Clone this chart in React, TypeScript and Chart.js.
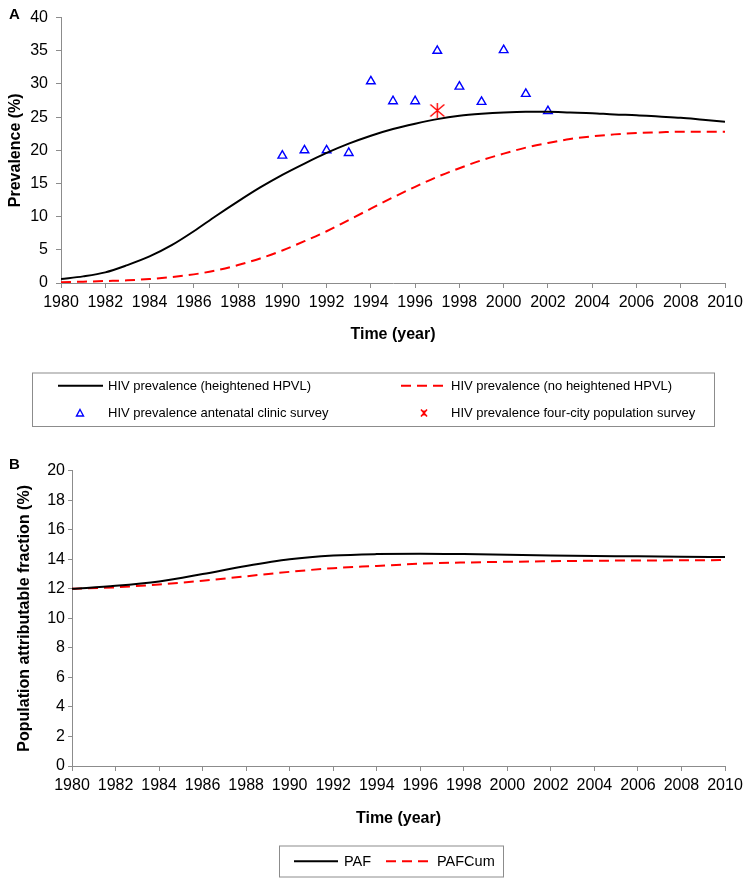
import React, { useEffect, useRef } from "react";
import { Chart, registerables } from "chart.js";
Chart.register(...registerables);

const FONT = '"Liberation Sans", Arial, Helvetica, sans-serif';

// ---------- Panel A data ----------
const modelYears = [
  1980, 1981, 1982, 1983, 1984, 1985, 1986, 1987, 1988, 1989, 1990, 1991, 1992, 1993, 1994, 1995,
  1996, 1997, 1998, 1999, 2000, 2001, 2002, 2003, 2004, 2005, 2006, 2007, 2008, 2009, 2010,
];
const hivHeightened = [
  0.6, 1.0, 1.6, 2.7, 4.0, 5.7, 7.8, 10.1, 12.3, 14.4, 16.3, 18.0, 19.6, 21.0, 22.2, 23.2,
  24.0, 24.7, 25.2, 25.5, 25.7, 25.8, 25.8, 25.7, 25.6, 25.4, 25.3, 25.1, 24.9, 24.6, 24.3,
];
const hivNoHeightened = [
  0.1, 0.2, 0.3, 0.4, 0.6, 0.9, 1.3, 1.9, 2.7, 3.7, 4.9, 6.3, 7.8, 9.5, 11.2, 12.9,
  14.5, 16.0, 17.3, 18.5, 19.5, 20.4, 21.1, 21.7, 22.1, 22.4, 22.6, 22.7, 22.8, 22.8, 22.8,
];
const ancYears = [1990, 1991, 1992, 1993, 1994, 1995, 1996, 1997, 1998, 1999, 2000, 2001, 2002];
const ancValues = [19.2, 20.0, 20.0, 19.6, 30.4, 27.4, 27.4, 35.0, 29.6, 27.3, 35.1, 28.5, 25.9];
const surveyYears = [1997];
const surveyValues = [26.0];

// ---------- Panel B data ----------
const pafYears = [1980, 1982, 1984, 1986, 1988, 1990, 1992, 1994, 1996, 1998, 2000, 2002, 2004, 2006, 2008, 2010];
const pafValues = [12.0, 12.2, 12.5, 13.0, 13.55, 14.0, 14.25, 14.35, 14.38, 14.35, 14.3, 14.25, 14.22, 14.2, 14.17, 14.15];
const pafCumValues = [12.0, 12.1, 12.3, 12.55, 12.85, 13.15, 13.4, 13.55, 13.7, 13.78, 13.83, 13.87, 13.9, 13.92, 13.93, 13.95];

const xLabel = "Time (year)";
const yLabelA = "Prevalence (%)";
const yLabelB = "Population attributable fraction (%)";

const pts = (xs: number[], ys: number[]) => xs.map((x, i) => ({ x, y: ys[i] }));

function makeStar(): HTMLCanvasElement {
  const c = document.createElement("canvas");
  c.width = 17;
  c.height = 17;
  const g = c.getContext("2d")!;
  g.strokeStyle = "#ff0000";
  g.lineWidth = 1.4;
  g.beginPath();
  g.moveTo(8.5, 1);
  g.lineTo(8.5, 16);
  g.moveTo(1.5, 2.5);
  g.lineTo(15.5, 14.5);
  g.moveTo(15.5, 2.5);
  g.lineTo(1.5, 14.5);
  g.stroke();
  return c;
}

const panelPlugin = {
  id: "panelLegend",
  afterDraw(chart: any, _args: any, opts: any) {
    const ctx = chart.ctx as CanvasRenderingContext2D;
    ctx.save();
    ctx.fillStyle = "#000";
    ctx.font = `bold 15px ${FONT}`;
    ctx.textBaseline = "alphabetic";
    ctx.textAlign = "left";
    ctx.fillText(opts.panel, opts.panelX, opts.panelY);

    const b = opts.box;
    ctx.strokeStyle = "#8c8c8c";
    ctx.lineWidth = 1;
    ctx.strokeRect(b.x + 0.5, b.y + 0.5, b.w, b.h);

    ctx.font = `${opts.fontSize}px ${FONT}`;
    ctx.textBaseline = "middle";
    for (const it of opts.items) {
      const ds = chart.data.datasets[it.index];
      ctx.save();
      if (it.kind === "line") {
        ctx.strokeStyle = ds.borderColor;
        ctx.lineWidth = 2;
        ctx.setLineDash(ds.borderDash || []);
        ctx.beginPath();
        ctx.moveTo(it.x0, it.y);
        ctx.lineTo(it.x1, it.y);
        ctx.stroke();
      } else if (it.kind === "triangle") {
        ctx.strokeStyle = ds.borderColor;
        ctx.lineWidth = 1.4;
        ctx.beginPath();
        ctx.moveTo(it.x0, it.y - 3.5);
        ctx.lineTo(it.x0 + 3.5, it.y + 3);
        ctx.lineTo(it.x0 - 3.5, it.y + 3);
        ctx.closePath();
        ctx.stroke();
      } else if (it.kind === "star") {
        ctx.strokeStyle = "#ff0000";
        ctx.lineWidth = 1.6;
        ctx.beginPath();
        ctx.moveTo(it.x0 - 3, it.y - 3.5);
        ctx.lineTo(it.x0 + 3, it.y + 3.5);
        ctx.moveTo(it.x0 + 3, it.y - 3.5);
        ctx.lineTo(it.x0 - 3, it.y + 3.5);
        ctx.moveTo(it.x0, it.y - 2.5);
        ctx.lineTo(it.x0, it.y + 2.5);
        ctx.stroke();
      }
      ctx.restore();
      ctx.fillStyle = "#000";
      ctx.fillText(ds.label, it.tx, it.y + 0.5);
    }
    ctx.restore();
  },
};

function axisCommon(opts: {
  min: number;
  max: number;
  step: number;
  tickLen: number;
  pad: number;
}) {
  return {
    type: "linear" as const,
    min: opts.min,
    max: opts.max,
    ticks: {
      stepSize: opts.step,
      autoSkip: false,
      maxRotation: 0,
      padding: opts.pad,
      color: "#000",
      font: { family: FONT, size: 16 },
      callback: (v: any) => String(v),
    },
    grid: { drawOnChartArea: false, drawTicks: true, tickLength: opts.tickLen, color: "#8c8c8c", lineWidth: 1 },
    border: { display: true, color: "#8c8c8c", width: 1 },
  };
}

export default function App() {
  const refA = useRef<HTMLCanvasElement>(null);
  const refB = useRef<HTMLCanvasElement>(null);

  useEffect(() => {
    Chart.defaults.font.family = FONT;
    const star = makeStar();

    const chartA = new Chart(refA.current!, {
      type: "line",
      data: {
        datasets: [
          {
            label: "HIV prevalence (heightened HPVL)",
            data: pts(modelYears, hivHeightened),
            borderColor: "#000000",
            borderWidth: 2,
            pointRadius: 0,
            cubicInterpolationMode: "monotone",
            fill: false,
          },
          {
            label: "HIV prevalence (no heightened HPVL)",
            data: pts(modelYears, hivNoHeightened),
            borderColor: "#ff0000",
            borderWidth: 2,
            borderDash: [10, 6],
            pointRadius: 0,
            cubicInterpolationMode: "monotone",
            fill: false,
          },
          {
            label: "HIV prevalence antenatal clinic survey",
            data: pts(ancYears, ancValues),
            showLine: false,
            pointStyle: "triangle",
            pointRadius: 5,
            borderColor: "#0000ff",
            backgroundColor: "rgba(0,0,0,0)",
            pointBorderWidth: 1.4,
          },
          {
            label: "HIV prevalence four-city population survey",
            data: pts(surveyYears, surveyValues),
            showLine: false,
            pointStyle: star as any,
            pointRadius: 8,
            borderColor: "#ff0000",
            backgroundColor: "rgba(0,0,0,0)",
          },
        ] as any,
      },
      options: {
        responsive: false,
        animation: false,
        events: [],
        layout: { padding: { top: 14, right: 24, left: 0, bottom: 95.4 } },
        plugins: {
          legend: { display: false },
          tooltip: { enabled: false },
          panelLegend: {
            panel: "A",
            panelX: 9,
            panelY: 18.5,
            box: { x: 32, y: 372.5, w: 682, h: 53.5 },
            fontSize: 13,
            items: [
              { index: 0, kind: "line", x0: 58, x1: 103, tx: 108, y: 385.7 },
              { index: 1, kind: "line", x0: 401, x1: 446, tx: 451, y: 385.7 },
              { index: 2, kind: "triangle", x0: 80, tx: 108, y: 413 },
              { index: 3, kind: "star", x0: 424, tx: 451, y: 413 },
            ],
          },
        } as any,
        scales: {
          x: {
            ...axisCommon({ min: 1980, max: 2010, step: 2, tickLen: 5, pad: 5 }),
            title: { display: true, text: xLabel, color: "#000", font: { family: FONT, size: 16, weight: "bold" }, padding: 0 },
            afterFit: (s: any) => {
              s.height = 61.6;
            },
          },
          y: {
            ...axisCommon({ min: 0, max: 40, step: 5, tickLen: 5, pad: 8 }),
            title: {
              display: true,
              text: yLabelA,
              color: "#000",
              font: { family: FONT, size: 16, weight: "bold" },
              padding: { top: 6.4, bottom: 0 },
            },
            afterFit: (s: any) => {
              s.width = 61;
            },
          },
        } as any,
      },
      plugins: [panelPlugin as any],
    });

    const chartB = new Chart(refB.current!, {
      type: "line",
      data: {
        datasets: [
          {
            label: "PAF",
            data: pts(pafYears, pafValues),
            borderColor: "#000000",
            borderWidth: 2,
            pointRadius: 0,
            cubicInterpolationMode: "monotone",
            fill: false,
          },
          {
            label: "PAFCum",
            data: pts(pafYears, pafCumValues),
            borderColor: "#ff0000",
            borderWidth: 2,
            borderDash: [10, 6],
            pointRadius: 0,
            cubicInterpolationMode: "monotone",
            fill: false,
          },
        ] as any,
      },
      options: {
        responsive: false,
        animation: false,
        events: [],
        layout: { padding: { top: 30.7, right: 24, left: 0, bottom: 54.4 } },
        plugins: {
          legend: { display: false },
          tooltip: { enabled: false },
          panelLegend: {
            panel: "B",
            panelX: 9,
            panelY: 28.5,
            box: { x: 279, y: 405.5, w: 224, h: 31 },
            fontSize: 14.5,
            items: [
              { index: 0, kind: "line", x0: 294, x1: 338, tx: 344, y: 421.2 },
              { index: 1, kind: "line", x0: 386, x1: 431, tx: 437, y: 421.2 },
            ],
          },
        } as any,
        scales: {
          x: {
            ...axisCommon({ min: 1980, max: 2010, step: 2, tickLen: 5, pad: 5 }),
            title: { display: true, text: xLabel, color: "#000", font: { family: FONT, size: 16, weight: "bold" }, padding: 0 },
            afterFit: (s: any) => {
              s.height = 62.6;
            },
          },
          y: {
            ...axisCommon({ min: 0, max: 20, step: 2, tickLen: 4, pad: 3 }),
            title: {
              display: true,
              text: yLabelB,
              color: "#000",
              font: { family: FONT, size: 16, weight: "bold" },
              padding: { top: 14.6, bottom: 0 },
            },
            afterFit: (s: any) => {
              s.width = 72;
            },
          },
        } as any,
      },
      plugins: [panelPlugin as any],
    });

    return () => {
      chartA.destroy();
      chartB.destroy();
    };
  }, []);

  return (
    <div style={{ position: "absolute", left: 0, top: 0, width: 749, height: 883, background: "#fff" }}>
      <canvas ref={refA} width={749} height={440} style={{ position: "absolute", left: 0, top: 0, display: "block" }} />
      <canvas ref={refB} width={749} height={443} style={{ position: "absolute", left: 0, top: 440, display: "block" }} />
    </div>
  );
}
